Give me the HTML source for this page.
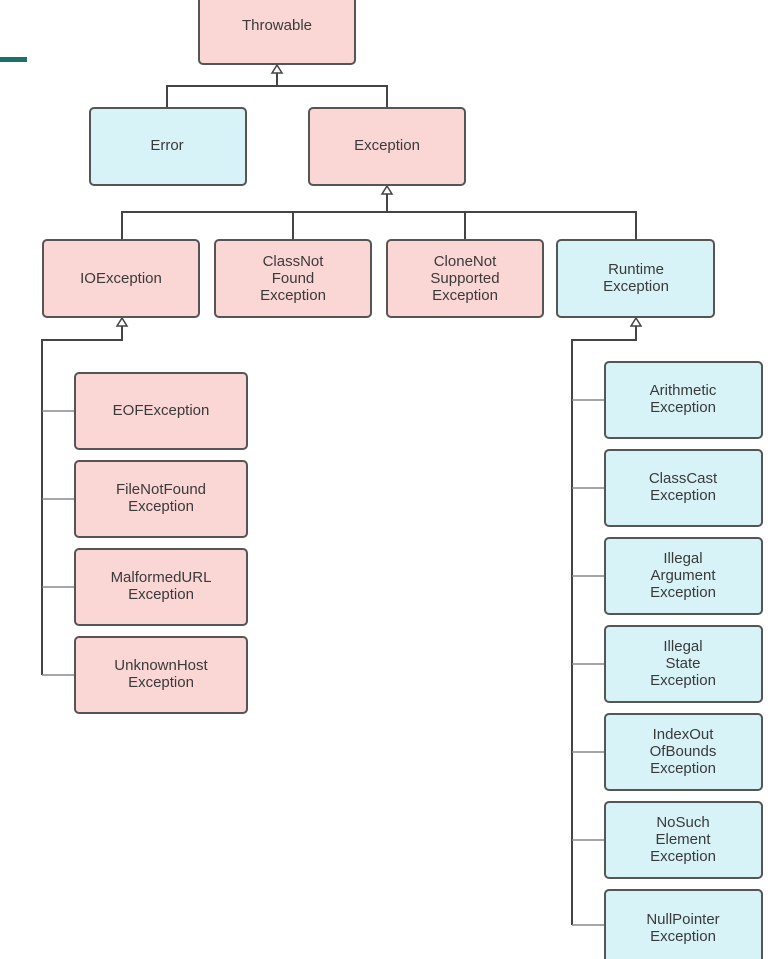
<!DOCTYPE html>
<html><head><meta charset="utf-8"><style>
html,body{margin:0;padding:0;background:#fff;width:771px;height:959px;overflow:hidden}
text{font-family:"Liberation Sans",sans-serif;font-size:15px;fill:#3a3a3a;text-anchor:middle}
.p{fill:#fad6d5;stroke:#555;stroke-width:2}
.b{fill:#d7f3f7;stroke:#555;stroke-width:2}
.l{fill:none;stroke:#444;stroke-width:2}
.t{fill:none;stroke:#888;stroke-width:1.5}
</style></head><body>
<svg width="771" height="959" xmlns="http://www.w3.org/2000/svg">
<rect x="0" y="57" width="27" height="5" fill="#1d6f6a"/>
<!-- connectors -->
<path class="l" d="M167 108 V86 H387 V108 M277 86 V68"/>
<path class="l" d="M122 240 V212 H636 V240 M293 212 V240 M465 212 V240 M387 212 V189"/>
<path class="l" d="M42 675 V340 H122 V321"/>
<path class="t" d="M42 411 H75 M42 499 H75 M42 587 H75 M42 675 H75"/>
<path class="l" d="M572 925 V340 H636 V321"/>
<path class="t" d="M572 400 H605 M572 488 H605 M572 576 H605 M572 664 H605 M572 752 H605 M572 840 H605 M572 925 H605"/>
<!-- arrowheads -->
<g fill="#fff" stroke="#444" stroke-width="1.5">
<path d="M277 65 L272 73 L282 73 Z"/><path d="M387 186 L382 194 L392 194 Z"/>
<path d="M122 318 L117 326 L127 326 Z"/><path d="M636 318 L631 326 L641 326 Z"/>
</g>
<!-- boxes -->
<rect class="p" x="199" y="-5" width="156" height="69" rx="4"/><text x="277" y="30">Throwable</text>
<rect class="b" x="90" y="108" width="156" height="77" rx="4"/><text x="167" y="150">Error</text>
<rect class="p" x="309" y="108" width="156" height="77" rx="4"/><text x="387" y="150">Exception</text>
<rect class="p" x="43" y="240" width="156" height="77" rx="4"/><text x="121" y="283">IOException</text>
<rect class="p" x="215" y="240" width="156" height="77" rx="4"/><text x="293" y="266">ClassNot</text><text x="293" y="283">Found</text><text x="293" y="300">Exception</text>
<rect class="p" x="387" y="240" width="156" height="77" rx="4"/><text x="465" y="266">CloneNot</text><text x="465" y="283">Supported</text><text x="465" y="300">Exception</text>
<rect class="b" x="557" y="240" width="157" height="77" rx="4"/><text x="636" y="274">Runtime</text><text x="636" y="291">Exception</text>
<rect class="p" x="75" y="373" width="172" height="76" rx="4"/><text x="161" y="415">EOFException</text>
<rect class="p" x="75" y="461" width="172" height="76" rx="4"/><text x="161" y="494">FileNotFound</text><text x="161" y="511">Exception</text>
<rect class="p" x="75" y="549" width="172" height="76" rx="4"/><text x="161" y="582">MalformedURL</text><text x="161" y="599">Exception</text>
<rect class="p" x="75" y="637" width="172" height="76" rx="4"/><text x="161" y="670">UnknownHost</text><text x="161" y="687">Exception</text>
<rect class="b" x="605" y="362" width="157" height="76" rx="4"/><text x="683" y="395">Arithmetic</text><text x="683" y="412">Exception</text>
<rect class="b" x="605" y="450" width="157" height="76" rx="4"/><text x="683" y="483">ClassCast</text><text x="683" y="500">Exception</text>
<rect class="b" x="605" y="538" width="157" height="76" rx="4"/><text x="683" y="563">Illegal</text><text x="683" y="580">Argument</text><text x="683" y="597">Exception</text>
<rect class="b" x="605" y="626" width="157" height="76" rx="4"/><text x="683" y="651">Illegal</text><text x="683" y="668">State</text><text x="683" y="685">Exception</text>
<rect class="b" x="605" y="714" width="157" height="76" rx="4"/><text x="683" y="739">IndexOut</text><text x="683" y="756">OfBounds</text><text x="683" y="773">Exception</text>
<rect class="b" x="605" y="802" width="157" height="76" rx="4"/><text x="683" y="827">NoSuch</text><text x="683" y="844">Element</text><text x="683" y="861">Exception</text>
<rect class="b" x="605" y="890" width="157" height="80" rx="4"/><text x="683" y="924">NullPointer</text><text x="683" y="941">Exception</text>
</svg>
</body></html>
